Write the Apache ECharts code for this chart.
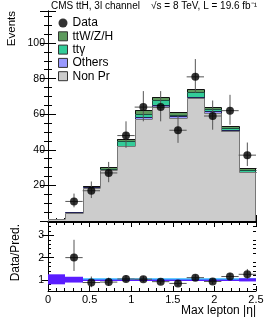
<!DOCTYPE html>
<html><head><meta charset="utf-8">
<script src="https://cdn.jsdelivr.net/npm/echarts@6/dist/echarts.min.js"></script>
<style>html,body{margin:0;padding:0;background:#fff}#c{width:266px;height:322px}</style>
</head><body><div id="c"></div><script>
// ---- data ----
const binEdges = [0, 0.2083, 0.4167, 0.625, 0.8333, 1.0417, 1.25, 1.4583, 1.6667, 1.875, 2.0833, 2.2917, 2.5];
const nonPrompt = [1.0, 4.7, 18.6, 28.6, 42.0, 57.5, 64.0, 57.8, 69.3, 60.6, 50.5, 27.3];
const others    = [0.1, 0.1, 0.3, 0.3, 0.4, 0.9, 1.0, 1.2, 0.6, 1.0, 0.8, 0.3];
const ttGamma   = [0.0, 0.1, 0.3, 0.6, 2.3, 1.9, 2.8, 0.5, 2.6, 1.1, 0.9, 1.2];
const ttVH      = [0.1, 0.2, 0.4, 0.8, 1.6, 2.0, 2.1, 1.9, 1.5, 1.5, 1.3, 1.0];
const dataCounts = [null, 11, 17, 27, 48, 64, 64, 51, 81, 59, 62, 37];
const dataErrLow  = [0, 3.3, 4.1, 5.2, 6.9, 8.0, 8.0, 7.1, 9.0, 7.7, 7.9, 6.1];
const dataErrHigh = [0, 4.4, 5.2, 6.2, 8.0, 9.0, 9.0, 8.2, 10.0, 8.7, 8.9, 7.1];
const ratio        = [null, 2.0, 0.88, 0.90, 1.04, 1.03, 0.92, 0.84, 1.10, 0.93, 1.15, 1.25];
const ratioErrLow  = [0, 0.6, 0.21, 0.17, 0.15, 0.13, 0.12, 0.12, 0.12, 0.12, 0.15, 0.20];
const ratioErrHigh = [0, 0.8, 0.27, 0.20, 0.17, 0.14, 0.13, 0.13, 0.14, 0.14, 0.17, 0.24];
const bandLow  = [0.80, 0.88, 0.95, 0.95, 0.95, 0.95, 0.95, 0.95, 0.95, 0.95, 0.95, 0.93];
const bandHigh = [1.25, 1.14, 1.01, 1.01, 1.01, 1.01, 1.01, 1.01, 1.01, 1.01, 1.01, 1.07];
const xTicks = [0, 0.5, 1, 1.5, 2, 2.5];
const mainYTicks = [20, 40, 60, 80, 100];
const ratioYTicks = [1, 2, 3];
const ratioYMinor = [0.6, 0.8, 1.2, 1.4, 1.6, 1.8, 2.2, 2.4, 2.6, 2.8, 3.2, 3.4];

const FONT = '"Liberation Sans", Arial, Helvetica, sans-serif';
const nb = binEdges.length - 1;
const R = Math.round;

// cumulative stack tops (ROOT THStack style: each drawn from 0 to its cumulative top)
const layers = [nonPrompt, others, ttGamma, ttVH];
const cum = [];
let run = new Array(nb).fill(0);
layers.forEach(l => { run = run.map((v, i) => v + l[i]); cum.push(run.slice()); });

function layerData(top) {
  const out = [];
  for (let i = 0; i < nb; i++) {
    out.push([binEdges[i], binEdges[i + 1], 0, top[i], i === 0 ? 0 : top[i - 1], i === nb - 1 ? 1 : 0]);
  }
  return out;
}
function layerRender(fill, line) {
  return function (params, api) {
    const x0 = api.value(0), x1 = api.value(1), t = api.value(3), pt = api.value(4), last = api.value(5);
    const bl = api.coord([x0, 0]), tr = api.coord([x1, t]), pp = api.coord([x0, pt]);
    const L = R(bl[0]), Rt = R(tr[0]), B = R(bl[1]), T = R(tr[1]), P = R(pp[1]);
    const ch = [
      { type: 'rect', shape: { x: L, y: T, width: Rt - L, height: B - T }, style: { fill: fill } },
      { type: 'polyline', shape: { points: [[L + 0.5, P + 0.5], [L + 0.5, T + 0.5], [Rt + 0.5, T + 0.5]] }, style: { stroke: line, lineWidth: 1, fill: null } }
    ];
    if (last) ch.push({ type: 'line', shape: { x1: Rt - 0.5, y1: T + 0.5, x2: Rt - 0.5, y2: B }, style: { stroke: line, lineWidth: 1 } });
    return { type: 'group', children: ch };
  };
}
function errData(vals, lo, hi) {
  const out = [];
  for (let i = 0; i < nb; i++) {
    if (vals[i] == null) continue;
    out.push([(binEdges[i] + binEdges[i + 1]) / 2, vals[i], lo[i], hi[i], binEdges[i], binEdges[i + 1]]);
  }
  return out;
}
function errRender(params, api) {
  const xc = api.value(0), y = api.value(1), lo = api.value(2), hi = api.value(3), x0 = api.value(4), x1 = api.value(5);
  const a = api.coord([x0, y]), b = api.coord([x1, y]), c = api.coord([xc, y - lo]), d = api.coord([xc, y + hi]);
  return { type: 'group', children: [
    { type: 'line', shape: { x1: a[0], y1: a[1], x2: b[0], y2: b[1] }, style: { stroke: '#555', lineWidth: 1 } },
    { type: 'line', shape: { x1: c[0], y1: c[1], x2: d[0], y2: d[1] }, style: { stroke: '#555', lineWidth: 1 } }
  ] };
}
function ptsData(vals) {
  const out = [];
  for (let i = 0; i < nb; i++) if (vals[i] != null) out.push([(binEdges[i] + binEdges[i + 1]) / 2, vals[i]]);
  return out;
}
const bandData = [];
for (let i = 0; i < nb; i++) bandData.push([binEdges[i], binEdges[i + 1], bandLow[i], bandHigh[i]]);

const axLine = { show: true, lineStyle: { color: '#000', width: 1 } };
function xAx(grid, pos, labels) {
  return {
    type: 'value', gridIndex: grid, position: pos, min: 0, max: 2.5, interval: 0.5,
    axisLine: axLine, splitLine: { show: false },
    axisTick: { show: true, inside: true, length: grid === 0 ? 6 : 5, lineStyle: { color: '#000' } },
    minorTick: { show: true, splitNumber: 5, length: 3, lineStyle: { color: '#000' } },
    axisLabel: { show: labels, fontFamily: FONT, fontSize: 11, color: '#000', margin: 3,
      customValues: labels ? xTicks : undefined,
      formatter: v => String(v) }
  };
}
function mainY(pos, labels) {
  return {
    type: 'value', gridIndex: 0, position: pos, min: 0, max: 118, interval: 20,
    axisLine: axLine, splitLine: { show: false },
    axisTick: { show: true, inside: true, length: 8, lineStyle: { color: '#000' } },
    minorTick: { show: true, splitNumber: 4, length: 4, lineStyle: { color: '#000' } },
    axisLabel: { show: labels, fontFamily: FONT, fontSize: 10.5, color: '#000', margin: 3, customValues: mainYTicks }
  };
}
function ratioY(pos, labels, minor) {
  return {
    type: 'value', gridIndex: 1, position: pos, min: 0.5, max: 3.6,
    axisLine: minor ? { show: false } : axLine, splitLine: { show: false },
    axisTick: { show: true, inside: true, length: minor ? 3 : 6, customValues: minor ? ratioYMinor : ratioYTicks, lineStyle: { color: '#000' } },
    axisLabel: { show: labels, fontFamily: FONT, fontSize: 10.5, color: '#000', margin: 4, customValues: ratioYTicks }
  };
}

const option = {
  animation: false,
  backgroundColor: '#fff',
  grid: [
    { left: 48, right: 10, top: 11, height: 210, outerBoundsMode: 'none' },
    { left: 48, right: 10, top: 222, height: 69, outerBoundsMode: 'none' }
  ],
  xAxis: [xAx(0, 'bottom', false), xAx(0, 'top', false), xAx(1, 'bottom', true), xAx(1, 'top', false)],
  yAxis: [mainY('left', true), mainY('right', false), ratioY('left', true, false), ratioY('right', false, false),
          ratioY('left', false, true), ratioY('right', false, true)],
  legend: {
    orient: 'vertical', left: 58, top: 17, padding: 0, itemWidth: 9, itemHeight: 9, itemGap: 1.3,
    textStyle: { fontFamily: FONT, fontSize: 12, color: '#000' },
    selectedMode: false,
    data: [
      { name: 'Data', icon: 'circle', itemStyle: { color: '#000' } },
      { name: 'ttW/Z/H', icon: 'rect', itemStyle: { color: '#5e9a5e', borderColor: '#333', borderWidth: 1 } },
      { name: 'tt\u03b3', icon: 'rect', itemStyle: { color: '#33cc99', borderColor: '#333', borderWidth: 1 } },
      { name: 'Others', icon: 'rect', itemStyle: { color: '#9999ff', borderColor: '#333', borderWidth: 1 } },
      { name: 'Non Pr', icon: 'rect', itemStyle: { color: '#cccccc', borderColor: '#333', borderWidth: 1 } }
    ]
  },
  graphic: [
    { type: 'text', x: 51, y: 6, style: { text: 'CMS ttH, 3l channel', font: '10px ' + FONT, fill: '#000', verticalAlign: 'middle' } },
    { type: 'text', x: 257, y: 6, style: { text: '\u221as = 8 TeV, L = 19.6 fb\u207b\u00b9', font: '10px ' + FONT, fill: '#000', align: 'right', verticalAlign: 'middle' } },
    { type: 'text', x: 12, y: 11, rotation: Math.PI / 2, style: { text: 'Events', font: '11.5px ' + FONT, fill: '#000', align: 'right', verticalAlign: 'middle' } },
    { type: 'text', x: 16, y: 224, rotation: Math.PI / 2, style: { text: 'Data/Pred.', font: '12px ' + FONT, fill: '#000', align: 'right', verticalAlign: 'middle' } },
    { type: 'text', x: 256, y: 311, style: { text: 'Max lepton |\u03b7|', font: '12px ' + FONT, fill: '#000', align: 'right', verticalAlign: 'middle' } }
  ],
  series: [
    { name: 'ttW/Z/H', type: 'custom', xAxisIndex: 0, yAxisIndex: 0, data: layerData(cum[3]), renderItem: layerRender('#5e9a5e', '#111'), itemStyle: { color: '#5e9a5e' }, z: 2 },
    { name: 'tt\u03b3', type: 'custom', xAxisIndex: 0, yAxisIndex: 0, data: layerData(cum[2]), renderItem: layerRender('#33cc99', '#1d5040'), itemStyle: { color: '#33cc99' }, z: 2 },
    { name: 'Others', type: 'custom', xAxisIndex: 0, yAxisIndex: 0, data: layerData(cum[1]), renderItem: layerRender('#9999ff', '#222255'), itemStyle: { color: '#9999ff' }, z: 2 },
    { name: 'Non Pr', type: 'custom', xAxisIndex: 0, yAxisIndex: 0, data: layerData(cum[0]), renderItem: layerRender('#cccccc', '#777'), itemStyle: { color: '#cccccc' }, z: 2 },
    { name: 'DataErr', type: 'custom', xAxisIndex: 0, yAxisIndex: 0, data: errData(dataCounts, dataErrLow, dataErrHigh), renderItem: errRender, z: 3 },
    { name: 'Data', type: 'scatter', xAxisIndex: 0, yAxisIndex: 0, data: ptsData(dataCounts), symbol: 'circle', symbolSize: 8, itemStyle: { color: '#000' }, z: 4 },
    { name: 'RatioOne', type: 'line', xAxisIndex: 2, yAxisIndex: 2, data: [[0, 1.03], [2.5, 1.03]], symbol: 'none', lineStyle: { color: '#33bbff', width: 2 }, z: 1 },
    { name: 'Band', type: 'custom', xAxisIndex: 2, yAxisIndex: 2, data: bandData, z: 2,
      renderItem: function (params, api) {
        const a = api.coord([api.value(0), api.value(3)]), b = api.coord([api.value(1), api.value(2)]);
        const L = R(a[0]), Rt = R(b[0]);
        return { type: 'rect', shape: { x: L, y: a[1], width: Rt - L, height: b[1] - a[1] }, style: { fill: '#5a1dff' } };
      } },
    { name: 'RatioErr', type: 'custom', xAxisIndex: 2, yAxisIndex: 2, data: errData(ratio, ratioErrLow, ratioErrHigh), renderItem: errRender, z: 3 },
    { name: 'Ratio', type: 'scatter', xAxisIndex: 2, yAxisIndex: 2, data: ptsData(ratio), symbol: 'circle', symbolSize: 8, itemStyle: { color: '#000' }, z: 4 }
  ]
};
const chart = echarts.init(document.getElementById('c'));
chart.setOption(option);
</script></body></html>
